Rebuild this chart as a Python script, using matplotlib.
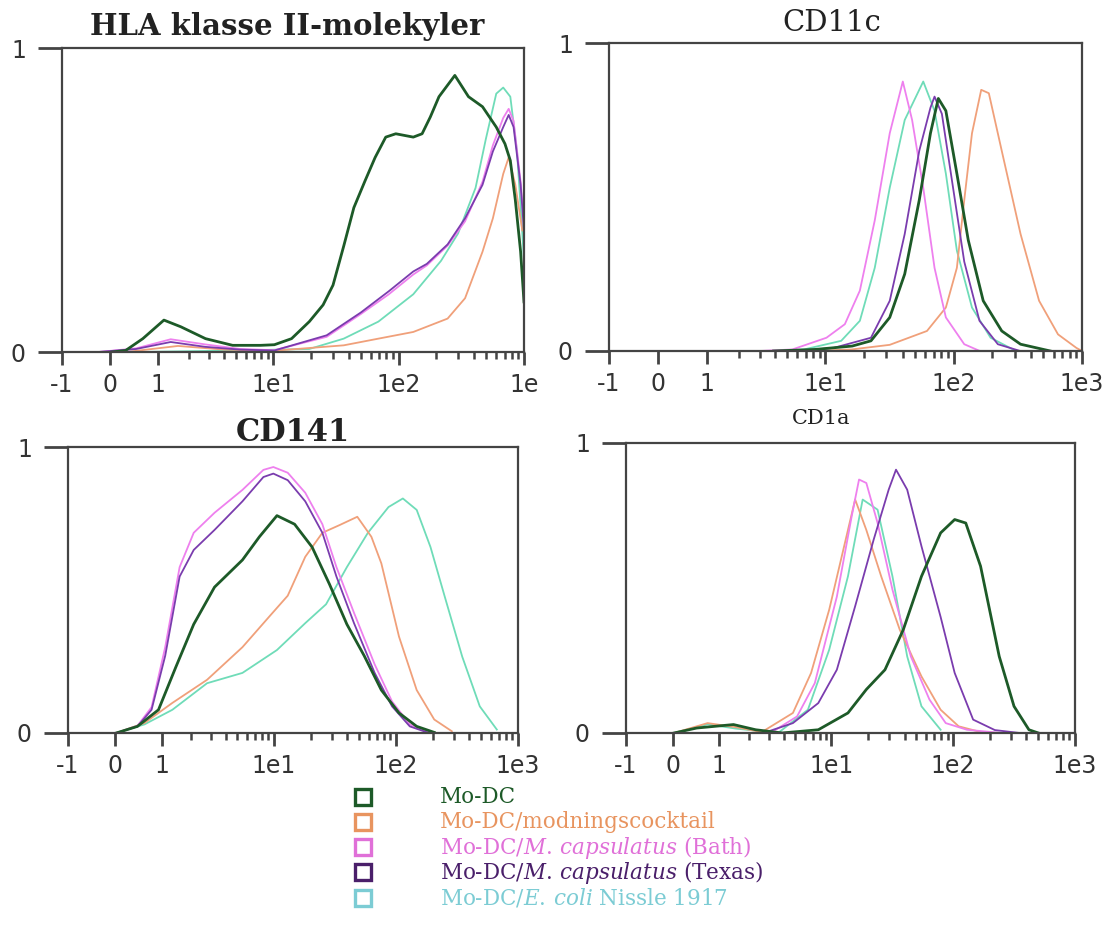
import matplotlib
matplotlib.use("Agg")
import matplotlib.pyplot as plt
from matplotlib.ticker import FixedLocator, FixedFormatter, NullFormatter
from matplotlib.lines import Line2D

plt.rcParams["mathtext.fontset"] = "custom"
plt.rcParams["mathtext.rm"] = "DejaVu Serif"
plt.rcParams["mathtext.it"] = "DejaVu Serif:italic"

# ---- series colours / labels ----
series_names = ["Mo-DC", "Mo-DC/modningscocktail", "Mo-DC/$\\mathit{M.\\,capsulatus}$ (Bath)",
                "Mo-DC/$\\mathit{M.\\,capsulatus}$ (Texas)", "Mo-DC/$\\mathit{E.\\,coli}$ Nissle 1917"]
series_colors = ["#1d5a28", "#f0a07a", "#ee80ee", "#7a3cae", "#6fdcb8"]
legend_text_colors = ["#1d5a28", "#e8945f", "#e070d8", "#4a1f6a", "#7cccd4"]

# ---- HLA klasse II ----
hla_modc_x = [0.03, 0.29, 0.64, 1.16, 1.7, 2.8, 4.7, 7.9, 10.2, 14, 19.4, 25, 30, 36.6, 44, 54, 65, 79,
              95, 131, 154, 179, 210, 281, 361, 467, 601, 705, 778, 853, 940, 1000]
hla_modc_y = [0, 0.005, 0.044, 0.105, 0.083, 0.044, 0.022, 0.022, 0.024, 0.044, 0.10, 0.155, 0.22, 0.35,
              0.475, 0.563, 0.64, 0.707, 0.718, 0.707, 0.718, 0.773, 0.84, 0.91, 0.84, 0.807, 0.74, 0.685,
              0.63, 0.50, 0.33, 0.165]
hla_mc_x = [0.3, 1.6, 4, 10, 36.5, 69, 131, 246, 339, 467, 565, 683, 755, 853, 970]
hla_mc_y = [0, 0.02, 0.008, 0.004, 0.022, 0.044, 0.066, 0.11, 0.177, 0.33, 0.44, 0.586, 0.64, 0.55, 0.4]
hla_bath_x = [-0.22, 0.5, 1.36, 2.79, 5.4, 10.2, 26.7, 50, 83.6, 131, 168, 246, 339, 467, 565, 683, 755,
              826, 940, 1000]
hla_bath_y = [0, 0.012, 0.042, 0.025, 0.01, 0.006, 0.05, 0.125, 0.19, 0.255, 0.285, 0.35, 0.43, 0.56,
              0.68, 0.77, 0.80, 0.76, 0.56, 0.42]
hla_texas_x = [-0.22, 0.5, 1.36, 2.79, 5.4, 10.2, 26.7, 50, 83.6, 131, 168, 246, 339, 467, 565, 683, 755,
               826, 940, 1000]
hla_texas_y = [0, 0.01, 0.033, 0.017, 0.008, 0.005, 0.055, 0.13, 0.2, 0.265, 0.29, 0.354, 0.44, 0.55,
               0.66, 0.74, 0.78, 0.74, 0.55, 0.4]
hla_ecoli_x = [0.5, 5, 19.4, 36.5, 69, 131, 218, 298, 411, 496, 601, 683, 778, 880, 970, 1000]
hla_ecoli_y = [0, 0.005, 0.01, 0.044, 0.1, 0.19, 0.3, 0.39, 0.54, 0.70, 0.85, 0.87, 0.84, 0.66, 0.39, 0.3]

# ---- CD11c ----
cd11c_modc_x = [3.9, 8.3, 16.2, 22.7, 31.8, 41.6, 54, 66, 76, 87, 106, 130, 170, 237, 332, 566]
cd11c_modc_y = [0, 0.005, 0.016, 0.033, 0.109, 0.25, 0.49, 0.707, 0.82, 0.78, 0.576, 0.36, 0.163, 0.065,
                0.022, 0]
cd11c_mc_x = [8, 16, 31.8, 62, 87, 106, 121, 139, 164, 188, 237, 332, 463, 650, 904, 1000]
cd11c_mc_y = [0, 0.005, 0.02, 0.065, 0.141, 0.27, 0.49, 0.707, 0.848, 0.837, 0.65, 0.38, 0.163, 0.054,
              0.01, 0]
cd11c_bath_x = [3, 5.5, 10.2, 14.2, 18.6, 24.3, 31.8, 40.2, 47.5, 58, 71, 87, 121, 160]
cd11c_bath_y = [0, 0.005, 0.043, 0.087, 0.196, 0.424, 0.707, 0.875, 0.75, 0.53, 0.27, 0.109, 0.022, 0]
cd11c_texas_x = [6, 11.6, 22.7, 31.8, 41.6, 54, 66, 71, 81, 99, 121, 159, 221, 330]
cd11c_texas_y = [0, 0.01, 0.043, 0.163, 0.38, 0.65, 0.79, 0.826, 0.77, 0.53, 0.29, 0.098, 0.022, 0]
cd11c_ecoli_x = [4, 6.8, 13.3, 18.6, 24.3, 31.8, 41.6, 58, 71, 87, 106, 139, 194, 290]
cd11c_ecoli_y = [0, 0.005, 0.033, 0.098, 0.27, 0.53, 0.75, 0.875, 0.78, 0.576, 0.326, 0.141, 0.043, 0.005]

# ---- CD141 ----
cd141_modc_x = [0.03, 0.44, 0.92, 1.42, 2.1, 3.2, 5.5, 7.6, 10.6, 14.8, 20.6, 28.6, 39.7, 55, 76, 106,
                148, 206]
cd141_modc_y = [0, 0.023, 0.081, 0.23, 0.38, 0.51, 0.605, 0.686, 0.76, 0.73, 0.65, 0.52, 0.38, 0.27,
                0.15, 0.07, 0.023, 0.002]
cd141_mc_x = [0.03, 0.59, 1.31, 2.76, 5.5, 9.3, 13, 18.1, 25, 34.6, 48.3, 63, 76, 106, 148, 206, 287]
cd141_mc_y = [0, 0.035, 0.105, 0.186, 0.30, 0.41, 0.48, 0.616, 0.70, 0.727, 0.756, 0.686, 0.593, 0.337,
              0.15, 0.047, 0.006]
cd141_bath_x = [0.03, 0.44, 0.75, 1.1, 1.55, 2.1, 3.2, 5.5, 8.2, 9.9, 13, 18.1, 25, 32.6, 45.4, 67, 93,
                130, 186]
cd141_bath_y = [0, 0.025, 0.09, 0.30, 0.58, 0.70, 0.77, 0.85, 0.92, 0.93, 0.91, 0.84, 0.73, 0.58, 0.42,
                0.24, 0.11, 0.03, 0.003]
cd141_texas_x = [0.03, 0.44, 0.75, 1.1, 1.55, 2.1, 3.2, 5.5, 8.2, 9.9, 13, 18.1, 25, 32.6, 45.4, 67, 93,
                 130, 186]
cd141_texas_y = [0, 0.023, 0.081, 0.27, 0.547, 0.64, 0.71, 0.81, 0.895, 0.907, 0.884, 0.81, 0.70, 0.547,
                 0.384, 0.21, 0.093, 0.023, 0]
cd141_ecoli_x = [0.03, 0.59, 1.31, 2.76, 5.5, 10.6, 18.1, 26.8, 39.7, 59, 87, 114, 148, 192, 251, 349,
                 486, 670]
cd141_ecoli_y = [0, 0.03, 0.081, 0.174, 0.21, 0.29, 0.384, 0.45, 0.58, 0.70, 0.79, 0.82, 0.78, 0.65,
                 0.477, 0.267, 0.093, 0.012]

# ---- CD1a ----
cd1a_modc_x = [0.03, 0.47, 1.42, 2.3, 3.9, 7.8, 13.7, 19.4, 27.6, 39, 55, 79, 103, 127, 168, 239, 316,
               419, 500]
cd1a_modc_y = [0, 0.017, 0.029, 0.011, 0, 0.011, 0.069, 0.15, 0.218, 0.356, 0.54, 0.69, 0.736, 0.724,
               0.575, 0.264, 0.092, 0.011, 0]
cd1a_mc_x = [0.03, 0.71, 1.5, 2.6, 4.8, 6.8, 9.6, 13.7, 15.7, 19.4, 25.7, 36.5, 55, 79, 111, 180]
cd1a_mc_y = [0, 0.034, 0.02, 0.003, 0.069, 0.207, 0.425, 0.70, 0.805, 0.70, 0.54, 0.356, 0.195, 0.08,
             0.023, 0]
cd1a_bath_x = [3.1, 5.2, 7.3, 11.1, 14.7, 16.9, 19.4, 24, 31.8, 45, 64, 87, 130, 250]
cd1a_bath_y = [0, 0.057, 0.172, 0.47, 0.747, 0.874, 0.862, 0.724, 0.494, 0.264, 0.115, 0.034, 0.011, 0]
cd1a_texas_x = [2.7, 4.8, 7.8, 11.1, 15.7, 22.3, 29.6, 34, 42, 55, 79, 103, 146, 220, 350]
cd1a_texas_y = [0, 0.034, 0.103, 0.218, 0.437, 0.667, 0.839, 0.908, 0.839, 0.644, 0.40, 0.207, 0.046,
                0.01, 0]
cd1a_ecoli_x = [0.03, 0.71, 1.5, 3.6, 6.4, 9.6, 13.7, 18.1, 24, 31.8, 42, 55, 79]
cd1a_ecoli_y = [0, 0.03, 0.015, 0, 0.08, 0.287, 0.54, 0.805, 0.77, 0.54, 0.264, 0.092, 0.011]

x_ticks = [-1, 0, 1, 10, 100, 1000]
x_tick_labels = ["-1", "0", "1", "1e1", "1e2", "1e3"]
x_minor = [m * d for d in (1, 10, 100) for m in range(2, 10)]

panels = [
    ("HLA klasse II-molekyler", [0.0555, 0.6227, 0.4136, 0.3258],
     [(hla_ecoli_x, hla_ecoli_y), (hla_mc_x, hla_mc_y), (hla_bath_x, hla_bath_y),
      (hla_texas_x, hla_texas_y), (hla_modc_x, hla_modc_y)]),
    ("CD11c", [0.5452, 0.6238, 0.4235, 0.3301],
     [(cd11c_ecoli_x, cd11c_ecoli_y), (cd11c_mc_x, cd11c_mc_y), (cd11c_bath_x, cd11c_bath_y),
      (cd11c_texas_x, cd11c_texas_y), (cd11c_modc_x, cd11c_modc_y)]),
    ("CD141", [0.0609, 0.2144, 0.4029, 0.3065],
     [(cd141_ecoli_x, cd141_ecoli_y), (cd141_mc_x, cd141_mc_y), (cd141_bath_x, cd141_bath_y),
      (cd141_texas_x, cd141_texas_y), (cd141_modc_x, cd141_modc_y)]),
    ("CD1a", [0.5604, 0.2144, 0.4020, 0.3108],
     [(cd1a_ecoli_x, cd1a_ecoli_y), (cd1a_mc_x, cd1a_mc_y), (cd1a_bath_x, cd1a_bath_y),
      (cd1a_texas_x, cd1a_texas_y), (cd1a_modc_x, cd1a_modc_y)]),
]
# drawing order: E. coli, cocktail, Bath, Texas, Mo-DC on top
draw_order = [4, 1, 2, 3, 0]

title_pos = [(0.257, 0.972, 21, "bold"), (0.745, 0.975, 21, "normal"),
             (0.262, 0.536, 22, "bold"), (0.735, 0.551, 15, "normal")]

fig = plt.figure(figsize=(11.17, 9.33), dpi=100)
for i, (title, rect, curves) in enumerate(panels):
    ax = fig.add_axes(rect)
    for (cx, cy), si in zip(curves, draw_order):
        lw = 2.0 if si == 0 else 1.3
        ax.plot(cx, cy, color=series_colors[si], lw=lw, solid_joinstyle="round")
    ax.set_xscale("asinh", linear_width=1.0)
    ax.set_xlim(-1, 1000)
    ax.set_ylim(0, 1)
    ax.xaxis.set_major_locator(FixedLocator(x_ticks))
    labels = list(x_tick_labels)
    if i == 0:
        labels[-1] = "1e"
    ax.xaxis.set_major_formatter(FixedFormatter(labels))
    ax.xaxis.set_minor_locator(FixedLocator(x_minor))
    ax.xaxis.set_minor_formatter(NullFormatter())
    ax.set_yticks([0, 1])
    ax.set_yticklabels(["0", "1"])
    ax.tick_params(axis="x", which="major", length=9, width=2, color="#444444", pad=6,
                   labelsize=17, labelcolor="#333333")
    ax.tick_params(axis="x", which="minor", length=5, width=1.8, color="#444444")
    ax.tick_params(axis="y", length=17, width=2, color="#444444", pad=9,
                   labelsize=17, labelcolor="#333333")
    for sp in ax.spines.values():
        sp.set_linewidth(1.6)
        sp.set_color("#444444")
    tx, ty, fs, fw = title_pos[i]
    fig.text(tx, ty, title, ha="center", va="center", fontsize=fs, fontweight=fw,
             family="DejaVu Serif", color="#222222")

# legend block below the panels
leg_y = [0.146, 0.119, 0.092, 0.065, 0.038]
for name, col, tcol, y in zip(series_names, series_colors, legend_text_colors, leg_y):
    fig.add_artist(Line2D([0.325], [y], transform=fig.transFigure, marker="s", markersize=12,
                          markerfacecolor="white", markeredgecolor=tcol, markeredgewidth=2.4,
                          linestyle="none"))
    fig.text(0.394, y, name, ha="left", va="center", fontsize=15.5, family="DejaVu Serif", color=tcol)

fig.savefig("out.png", dpi=100)
